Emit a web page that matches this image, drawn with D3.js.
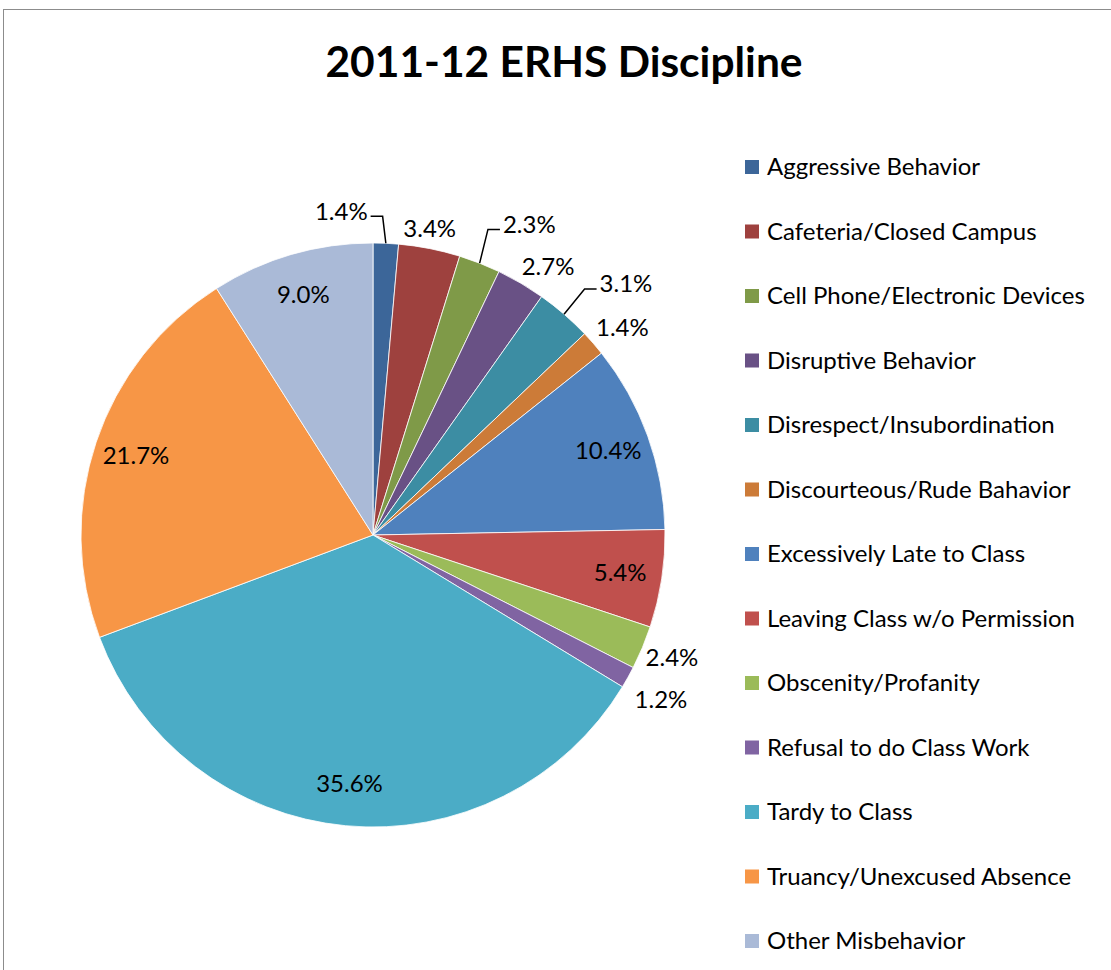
<!DOCTYPE html>
<html><head><meta charset="utf-8">
<script src="https://cdn.jsdelivr.net/npm/d3@7/dist/d3.min.js"></script>
<style>body{margin:0;background:#fff}svg{display:block}</style>
</head><body>
<svg id="c" width="1111" height="970"></svg>
<script>
const categories = ["Aggressive Behavior","Cafeteria/Closed Campus","Cell Phone/Electronic Devices","Disruptive Behavior","Disrespect/Insubordination","Discourteous/Rude Bahavior","Excessively Late to Class","Leaving Class w/o Permission","Obscenity/Profanity","Refusal to do Class Work","Tardy to Class","Truancy/Unexcused Absence","Other Misbehavior"];
const values = [1.4,3.4,2.3,2.7,3.1,1.4,10.4,5.4,2.4,1.2,35.6,21.7,9.0];
const colors = ["#3C6699","#9E413E","#7F9A48","#695185","#3C8DA3","#CC7B38","#4F81BD","#C0504D","#9BBB59","#8064A2","#4BACC6","#F79646","#AABAD7"];
const title = "2011-12 ERHS Discipline";

const font = "Lato, 'Open Sans', sans-serif";
const svg = d3.select("#c");
svg.append("rect").attr("x",3.5).attr("y",9.5).attr("width",1130).attr("height",1000)
  .attr("fill","#fff").attr("stroke","#8c8c8c").attr("stroke-width",1);

svg.append("text").attr("x",564).attr("y",77).attr("text-anchor","middle")
  .attr("font-family",font).attr("font-weight","bold").attr("font-size",42.5).attr("fill","#000").text(title);

const cx=373, cy=535, R=292;
const g = svg.append("g").attr("transform",`translate(${cx},${cy})`);
const data = categories.map((c,i)=>({name:c,value:values[i],color:colors[i]}));
const pie = d3.pie().value(d=>d.value).sort(null);
const arcs = pie(data);
const arc = d3.arc().innerRadius(0).outerRadius(R);
g.selectAll("path.slice").data(arcs).join("path").attr("class","slice")
  .attr("d",arc).attr("fill",d=>d.data.color).attr("stroke","#fff").attr("stroke-width",0.8);

// labels
const inside = new Set([6,7,10,11,12]);
const nudge = {0:[-46,0],1:[-6,11],2:[38,-9],3:[11,11],4:[41,-6],5:[5,5],8:[0,-2],9:[5,7]};
const leader = {0:"right",2:"left",4:"left"};
const fs = 24;
arcs.forEach((a,i)=>{
  const mid=(a.startAngle+a.endAngle)/2;
  const r = inside.has(i)? 250 : R+32;
  let x = r*Math.sin(mid), y = -r*Math.cos(mid);
  if(nudge[i]){x+=nudge[i][0]; y+=nudge[i][1];}
  const t = g.append("text").attr("x",x).attr("y",y).attr("dy","0.35em").attr("text-anchor","middle")
    .attr("font-family",font).attr("font-size",fs).attr("fill","#000").text(values[i].toFixed(1)+"%");
  if(leader[i]){
    const w = t.node().getComputedTextLength();
    const side = leader[i];
    const ex = side==="right"? x+w/2+3 : x-w/2-3;
    const ey = y+5;
    const elx = side==="right"? ex+12 : ex-12;
    const px = R*Math.sin(mid), py=-R*Math.cos(mid);
    g.append("path").attr("d",`M${px},${py}L${elx},${ey}L${ex},${ey}`)
      .attr("fill","none").attr("stroke","#000").attr("stroke-width",1.5);
  }
});

// legend
const lg = svg.append("g");
const ly = d3.scaleLinear().domain([0,12]).range([167,941]);
data.forEach((d,i)=>{
  lg.append("rect").attr("x",745).attr("y",ly(i)-7).attr("width",14).attr("height",14).attr("fill",d.color);
  lg.append("text").attr("x",767).attr("y",ly(i)).attr("dy","0.35em").attr("font-family",font)
    .attr("font-size",24).attr("fill","#000").text(d.name);
});
</script>
</body></html>
